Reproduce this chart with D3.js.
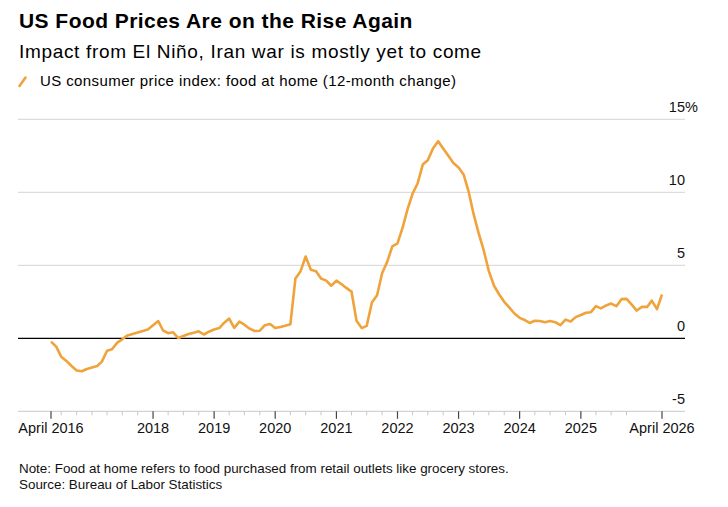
<!DOCTYPE html>
<html>
<head>
<meta charset="utf-8">
<script src="https://cdn.jsdelivr.net/npm/d3@7"></script>
<style>
  body { margin: 0; background: #fff; }
  svg { display: block; font-family: "Liberation Sans", Arial, sans-serif; }
</style>
</head>
<body>
<script>
// 12-month % change, food at home, one value per month from April 2016
var firstMonth = "2016-04";
var foodAtHome = [
  -0.23, -0.57, -1.26, -1.55, -1.9, -2.2, -2.26, -2.1, -2.0,            // 2016 Apr-Dec
  -1.9, -1.6, -0.85, -0.75, -0.3, -0.07, 0.2, 0.3, 0.4, 0.5, 0.6, 0.9,  // 2017
  1.18, 0.55, 0.35, 0.41, 0.02, 0.16, 0.29, 0.38, 0.48, 0.26, 0.45, 0.6, // 2018
  0.7, 1.05, 1.35, 0.72, 1.14, 0.93, 0.66, 0.5, 0.52, 0.9, 0.98, 0.7,   // 2019
  0.78, 0.86, 0.97, 4.1, 4.6, 5.6, 4.7, 4.6, 4.1, 3.95, 3.6, 3.95,      // 2020
  3.7, 3.45, 3.2, 1.2, 0.7, 0.85, 2.45, 2.95, 4.45, 5.25, 6.3, 6.5,     // 2021
  7.6, 8.8, 9.9, 10.6, 11.9, 12.2, 13.0, 13.5, 13.0, 12.5, 12.0, 11.7,  // 2022
  11.2, 10.1, 8.5, 7.2, 6.0, 4.6, 3.6, 3.0, 2.5, 2.1, 1.7, 1.4,         // 2023
  1.25, 1.05, 1.2, 1.18, 1.1, 1.18, 1.1, 0.9, 1.28, 1.15, 1.45, 1.6,    // 2024
  1.75, 1.78, 2.2, 2.05, 2.25, 2.38, 2.2, 2.68, 2.7, 2.3, 1.9, 2.15,    // 2025
  2.15, 2.58, 2.0, 3.0                                                  // 2026 Jan-Apr
];

var yTicks = [-5, 0, 5, 10, 15];
var yearTicks = [2018, 2019, 2020, 2021, 2022, 2023, 2024, 2025];

var width = 728,
    height = 507;

var parseMonth = d3.timeParse("%Y-%m");
var start = parseMonth(firstMonth);

// each monthly value sits at the end of its month
var data = foodAtHome.map(function(v, i){
  return { month: d3.timeMonth.offset(start, i), value: v };
});
function endOf(d){ return d3.timeMonth.offset(d, 1); }

var first = data[0], last = data[data.length - 1];

var x = d3.scaleTime()
    .domain([endOf(first.month), endOf(last.month)])
    .range([51, 662]);

var y = d3.scaleLinear()
    .domain([-5, 15])
    .range([411.3, 119.3]);

var left = 18, right = 685;

var svg = d3.select("body").append("svg")
    .attr("width", width)
    .attr("height", height);

// titles
svg.append("text")
    .attr("x", 19).attr("y", 28)
    .style("font-size", "21px").style("font-weight", "bold")
    .style("letter-spacing", "0.45px")
    .text("US Food Prices Are on the Rise Again");

svg.append("text")
    .attr("x", 19).attr("y", 58)
    .style("font-size", "19px")
    .style("letter-spacing", "0.67px")
    .text("Impact from El Niño, Iran war is mostly yet to come");

// legend
svg.append("line")
    .attr("x1", 19.5).attr("y1", 86)
    .attr("x2", 25.5).attr("y2", 77.5)
    .attr("stroke", "#f0a23b").attr("stroke-width", 2.6)
    .attr("stroke-linecap", "round");

svg.append("text")
    .attr("x", 40).attr("y", 86)
    .style("font-size", "15px")
    .style("letter-spacing", "0.4px")
    .text("US consumer price index: food at home (12-month change)");

// gridlines
svg.append("g").selectAll("line")
  .data(yTicks.filter(function(d){ return d > 0; }))
  .enter().append("line")
    .attr("x1", left).attr("x2", right)
    .attr("y1", function(d){ return y(d); })
    .attr("y2", function(d){ return y(d); })
    .attr("stroke", "#d4d4d4").attr("stroke-width", 1);

// bottom axis line
svg.append("line")
    .attr("x1", left).attr("x2", right)
    .attr("y1", y(-5)).attr("y2", y(-5))
    .attr("stroke", "#c8c8c8").attr("stroke-width", 1);

// minor quarterly ticks
var quarters = d3.timeMonth.every(3).range(new Date(2016, 6, 1), new Date(2026, 1, 1));
svg.append("g").selectAll("line")
  .data(quarters.filter(function(d){ return d.getMonth() !== 0 || d.getFullYear() < 2018; }))
  .enter().append("line")
    .attr("x1", function(d){ return x(d); })
    .attr("x2", function(d){ return x(d); })
    .attr("y1", y(-5)).attr("y2", y(-5) + 4)
    .attr("stroke", "#c8c8c8");

// major ticks + labels
var majors = [{ date: endOf(first.month), label: "April 2016" }]
  .concat(yearTicks.map(function(yr){ return { date: new Date(yr, 0, 1), label: String(yr) }; }))
  .concat([{ date: endOf(last.month), label: "April 2026" }]);

var major = svg.append("g").selectAll("g")
  .data(majors)
  .enter().append("g")
    .attr("transform", function(d){ return "translate(" + x(d.date) + ",0)"; });

major.append("line")
    .attr("y1", y(-5)).attr("y2", y(-5) + 7.5)
    .attr("stroke", "#444").attr("stroke-width", 1.2);

major.append("text")
    .attr("y", 433)
    .attr("text-anchor", "middle")
    .style("font-size", "14.5px")
    .style("fill", "#111")
    .text(function(d){ return d.label; });

// y labels
svg.append("g").selectAll("text")
  .data(yTicks)
  .enter().append("text")
    .attr("x", right)
    .attr("y", function(d){ return y(d) - 7; })
    .attr("text-anchor", "end")
    .style("font-size", "14.5px")
    .style("fill", "#111")
    .text(function(d){ return d; });

svg.append("text")
    .attr("x", right)
    .attr("y", y(15) - 7)
    .style("font-size", "14.5px")
    .style("fill", "#111")
    .text("%");

// zero line
svg.append("line")
    .attr("x1", left).attr("x2", right)
    .attr("y1", y(0)).attr("y2", y(0))
    .attr("stroke", "#000").attr("stroke-width", 1.3);

// the series
var line = d3.line()
    .x(function(d){ return x(endOf(d.month)); })
    .y(function(d){ return y(d.value); });

svg.append("path")
    .datum(data)
    .attr("d", line)
    .attr("fill", "none")
    .attr("stroke", "#f0a23b")
    .attr("stroke-width", 2.6)
    .attr("stroke-linejoin", "round");

// footer
svg.append("text")
    .attr("x", 19).attr("y", 473)
    .style("font-size", "13.4px")
    .style("fill", "#111")
    .text("Note: Food at home refers to food purchased from retail outlets like grocery stores.");

svg.append("text")
    .attr("x", 19).attr("y", 489)
    .style("font-size", "13.4px")
    .style("fill", "#111")
    .text("Source: Bureau of Labor Statistics");
</script>
</body>
</html>
